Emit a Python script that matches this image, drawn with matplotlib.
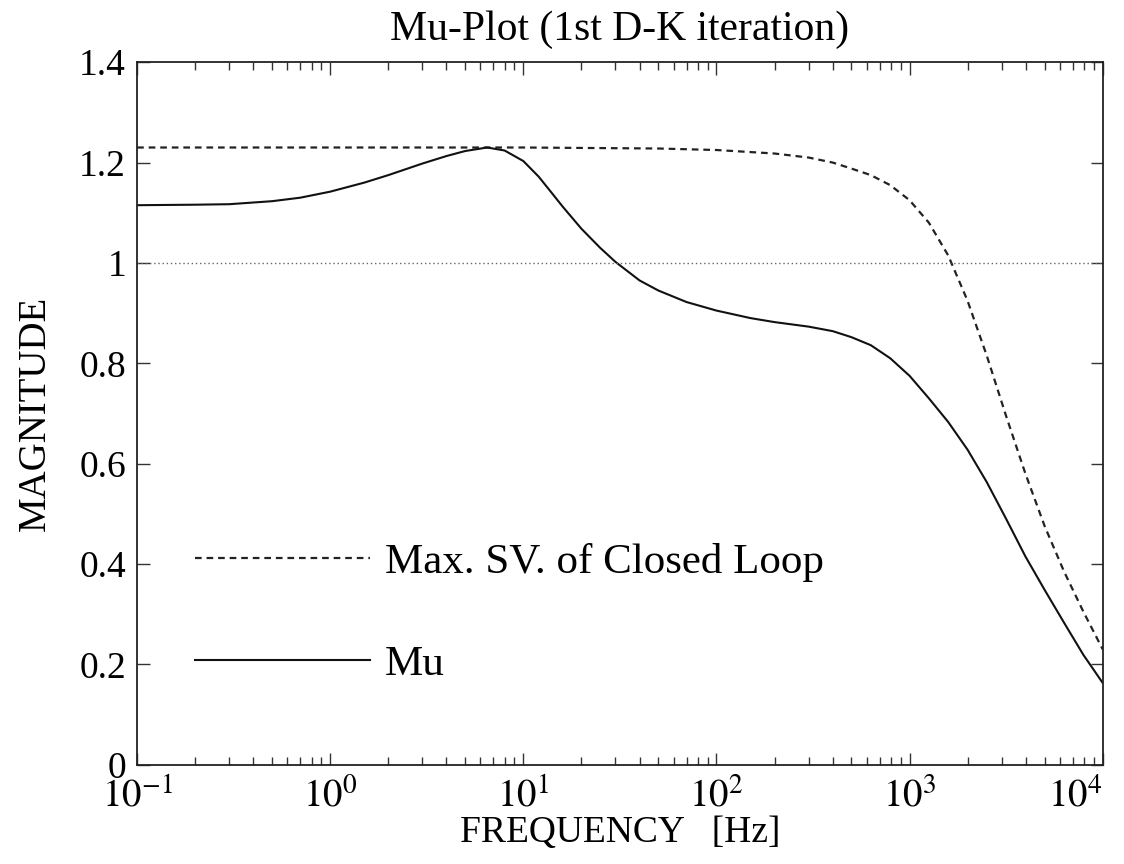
import matplotlib
matplotlib.use("Agg")
import matplotlib.pyplot as plt
from matplotlib.ticker import LogLocator, NullFormatter

plt.rcParams['font.family'] = ['Liberation Serif', 'DejaVu Serif']
plt.rcParams['mathtext.fontset'] = 'stix'

# MU-PLOT, FIRST D-K ITERATION

freq_mu = [0.1, 0.2, 0.3, 0.5, 0.7, 1.0, 1.5, 2.0, 3.0, 4.0, 5.0, 6.5, 8.0, 10,
           12, 14, 16, 20, 25, 30, 40, 50, 70, 100, 150, 200, 300, 400, 500, 630,
           794, 1000, 1260, 1585, 1995, 2512, 3162, 3981, 5012, 6310, 7943, 10000]
mu = [1.115, 1.116, 1.117, 1.123, 1.130, 1.142, 1.160, 1.175, 1.198, 1.213,
      1.223, 1.230, 1.224, 1.203, 1.172, 1.140, 1.112, 1.068, 1.030, 1.002,
      0.965, 0.945, 0.922, 0.905, 0.890, 0.882, 0.873, 0.864, 0.852, 0.836,
      0.810, 0.775, 0.730, 0.683, 0.628, 0.563, 0.490, 0.415, 0.348, 0.283,
      0.219, 0.163]

freq_sv = [0.1, 1, 10, 50, 100, 200, 300, 400, 500, 630, 794, 1000, 1260, 1585,
           1995, 2512, 3162, 3981, 5012, 6310, 7943, 10000]
max_sv = [1.23, 1.23, 1.23, 1.228, 1.225, 1.218, 1.21, 1.20, 1.188, 1.175,
          1.155, 1.125, 1.08, 1.015, 0.925, 0.815, 0.695, 0.58, 0.475, 0.385,
          0.305, 0.23]

decades = [0.1, 1, 10, 100, 1000, 10000]
decade_labels = [r'$10^{-1}$', r'$10^{0}$', r'$10^{1}$', r'$10^{2}$',
                 r'$10^{3}$', r'$10^{4}$']

fig = plt.figure(figsize=(11.24, 8.64), dpi=100)
ax = fig.add_axes([0.122, 0.115, 0.859, 0.813])

ax.plot(freq_sv, max_sv, color='#222222', linestyle=(0, (3, 2.2)), linewidth=1.6,
        label='Max. SV. of Closed Loop')
ax.plot(freq_mu, mu, color='#111111', linewidth=1.5, label='Mu')
ax.axhline(1.0, color='#666666', linestyle=(0, (1, 2)), linewidth=1.0)

ax.set_xscale('log')
ax.set_xlim(0.1, 1e4)
ax.set_ylim(0, 1.4)
ax.set_yticks([0, 0.2, 0.4, 0.6, 0.8, 1, 1.2, 1.4])
ax.set_yticklabels(['0', '0.2', '0.4', '0.6', '0.8', '1', '1.2', '1.4'])
ax.set_xticks(decades, labels=decade_labels)
ax.xaxis.set_minor_locator(LogLocator(base=10, subs=range(2, 10), numticks=10))
ax.xaxis.set_minor_formatter(NullFormatter())

ax.tick_params(which='both', direction='in', top=True, right=True,
               labelsize=27, pad=8, width=1.0, color='#333333')
ax.tick_params(which='major', length=9)
ax.tick_params(which='minor', length=6)
ax.tick_params(axis='x', which='major', labelsize=28, pad=10)
ax.get_xticklabels()[-1].set_horizontalalignment('right')
for s in ax.spines.values():
    s.set_linewidth(1.3)
    s.set_color('#222222')

ax.set_title('Mu-Plot (1st D-K iteration)', fontsize=30, pad=16)
ax.set_xlabel('FREQUENCY   [Hz]', fontsize=27, labelpad=0)
ax.set_ylabel('MAGNITUDE', fontsize=28, labelpad=18)

ax.legend(loc='center left', bbox_to_anchor=(0.06, 0.2155), frameon=False,
          fontsize=31, handlelength=4.06, handletextpad=0.35, labelspacing=1.45,
          borderpad=0, borderaxespad=0)

fig.savefig('out.png', dpi=100)
